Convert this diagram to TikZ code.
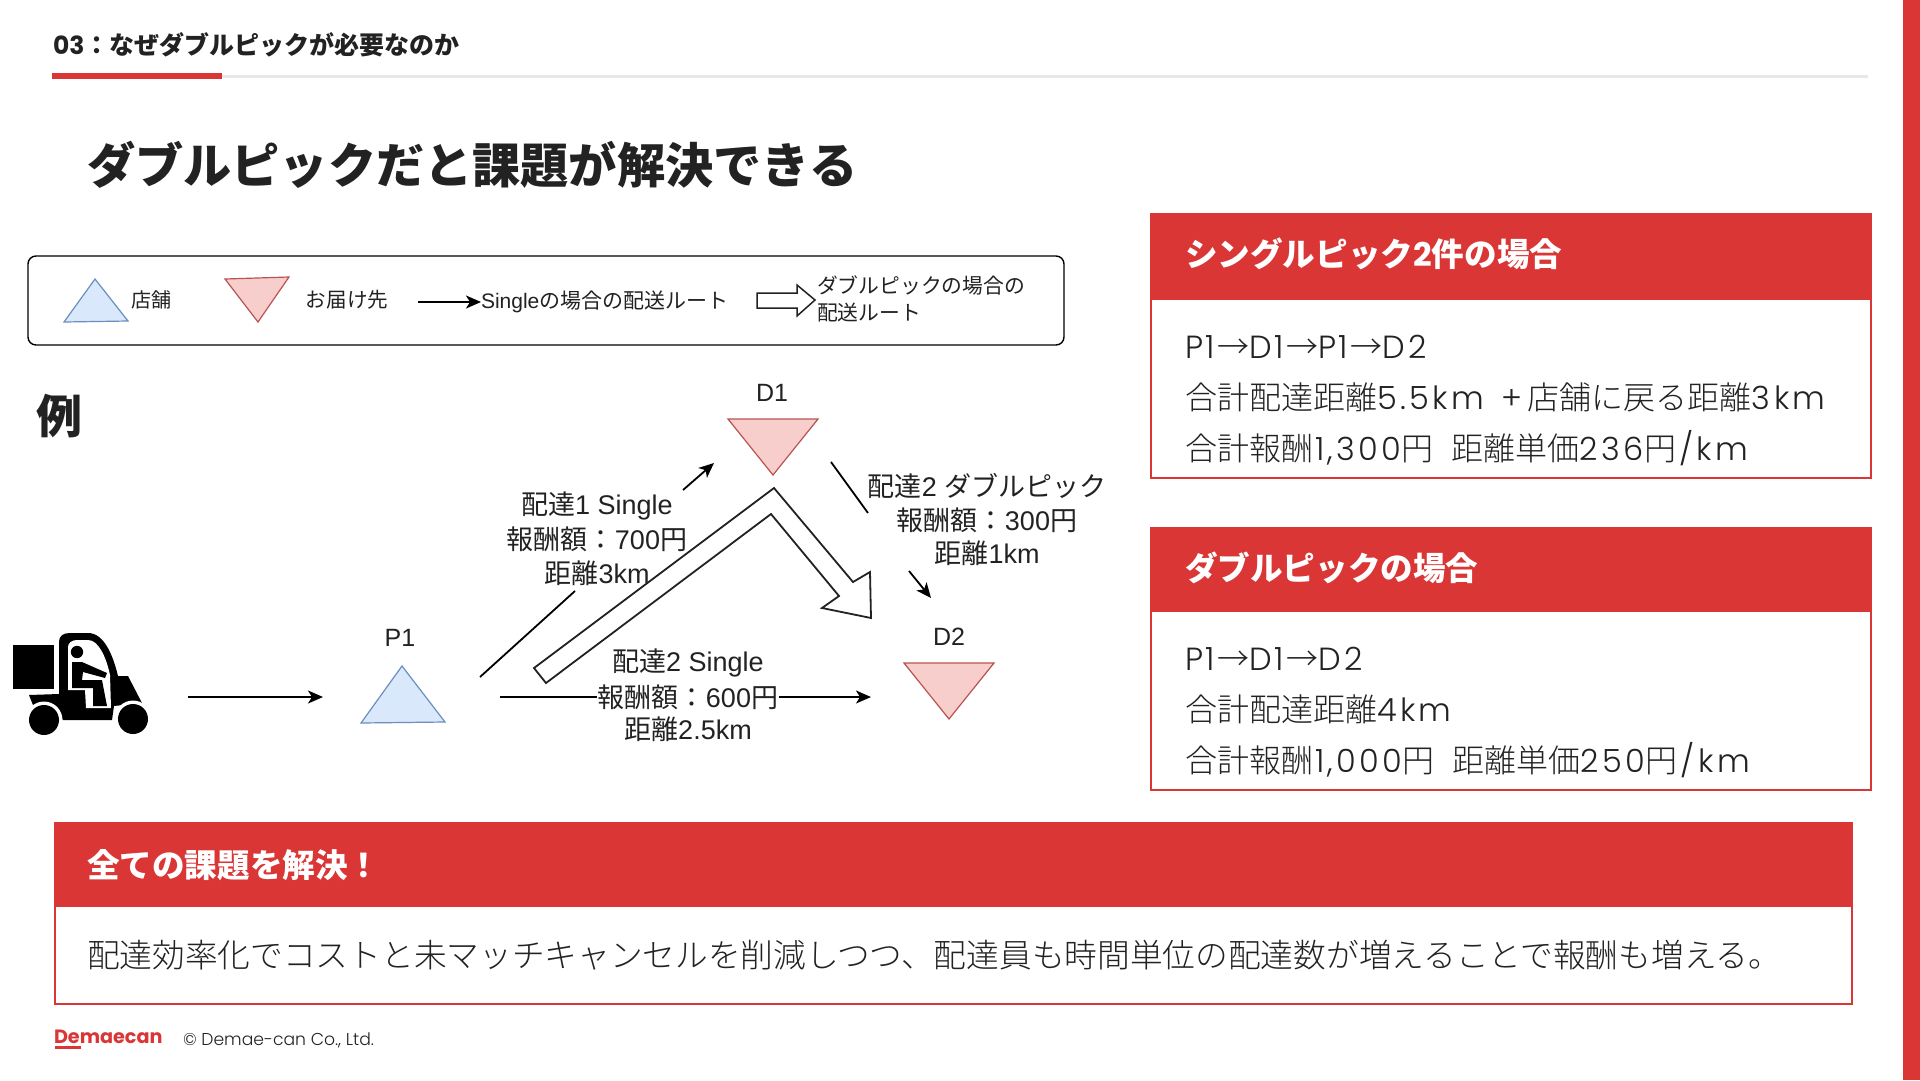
\documentclass[tikz,border=0pt]{standalone}
\usepackage{fontspec}
\usetikzlibrary{arrows.meta}
\setmainfont{Liberation Sans}
\newfontfamily\cjk{Noto Sans CJK JP}
\newfontfamily\cjklight{Noto Sans CJK JP Light}
\newfontfamily\poplight{Poppins Light}
\newfontfamily\popwide[LetterSpace=11]{Poppins Light}
\newfontfamily\pop{Poppins}
\newcommand\fs[1]{\fontsize{#1}{#1}\selectfont}
\newcommand\JD[1]{{\cjk #1}}
\newcommand\JL[1]{{\cjklight #1}}
\newcommand\wideone{\kern2.5pt 1\kern2.5pt}
\definecolor{dred}{HTML}{DA3636}
\definecolor{ink}{HTML}{222222}
\definecolor{pinkf}{HTML}{F8CECC}
\definecolor{pinks}{HTML}{B85450}
\definecolor{bluef}{HTML}{DAE8FC}
\definecolor{blues}{HTML}{6C8EBF}
\tikzset{
  txt/.style={inner sep=0pt,outer sep=0pt,text=ink,anchor=west},
  ctxt/.style={inner sep=0pt,outer sep=0pt,text=ink,anchor=center,align=center},
  bodyline/.style={txt,font=\popwide\fs{32}},
  headline/.style={txt,text=white,font=\cjk\bfseries\fs{32.6}},
  dio/.style={ctxt,font=\fs{27}},
  diolabel/.style={ctxt,font=\fs{25}},
  store/.style={draw=blues,fill=bluef,line width=1.2pt,line join=miter},
  dest/.style={draw=pinks,fill=pinkf,line width=1.2pt,line join=miter},
  conn/.style={line width=1.8pt,draw=black},
  connarrow/.style={conn,-{Stealth[length=15pt,width=13pt,inset=4pt]}},
  blockarrow/.style={draw=ink,line width=1.8pt,fill=white,line join=miter},
  panelframe/.style={draw=dred,line width=2.2pt,fill=white},
  panelhead/.style={fill=dred,draw=none}
}
\begin{document}
\begin{tikzpicture}[x=1pt,y=-1pt]
\useasboundingbox (0,0) rectangle (1920,1080);
\fill[white] (0,0) rectangle (1920,1080);
% side bar and header rule
\fill[dred] (1903,0) rectangle (1920,1080);
\fill[gray!18] (222,75) rectangle (1868,78);
\fill[dred] (52,73) rectangle (222,79);
\node[txt,font=\fs{25}] (crumb) at (53,45) {{\pop\bfseries 03}\JD{\bfseries ：なぜダブルピックが必要なのか}};
\node[txt,font=\cjk\bfseries\fs{48.2}] (title) at (87,165) {ダブルピックだと課題が解決できる};
% right panels
\draw[panelframe] (1151,214) rectangle (1871,478);
\fill[panelhead] (1150,213) rectangle (1872,300);
\node[headline] (h1) at (1185,254) {シングルピック{\pop\bfseries 2}件の場合};
\node[bodyline] (b11) at (1185,347) {P\wideone\JL{→}D\wideone\JL{→}P\wideone\JL{→}D2};
\node[bodyline] (b12) at (1185,397) {\JL{合計配達距離}5.5km\kern17pt +\,\JL{店舗に戻る距離}3km};
\node[bodyline] (b13) at (1185,448) {\JL{合計報酬}\wideone,300\JL{円}\kern6pt\ \JL{距離単価}236\JL{円}\kern3pt/km};
\draw[panelframe] (1151,528) rectangle (1871,790);
\fill[panelhead] (1150,527) rectangle (1872,612);
\node[headline] (h2) at (1185,568) {ダブルピックの場合};
\node[bodyline] (b21) at (1185,659) {P\wideone\JL{→}D\wideone\JL{→}D2};
\node[bodyline] (b22) at (1185,709) {\JL{合計配達距離}4km};
\node[bodyline] (b23) at (1185,760) {\JL{合計報酬}\wideone,000\JL{円}\kern6pt\ \JL{距離単価}250\JL{円}\kern3pt/km};
% bottom panel
\draw[panelframe] (55,823) rectangle (1852,1004);
\fill[panelhead] (54,822) rectangle (1853,907);
\node[headline] (h3) at (87,865) {全ての課題を解決！};
\node[txt,font=\cjklight\fs{32.7}] (b3) at (87,955) {配達効率化でコストと未マッチキャンセルを削減しつつ、配達員も時間単位の配達数が増えることで報酬も増える。};
% footer
\node[txt,font=\pop\bfseries\fs{19.2},text=dred] (logo) at (54,1037) {Demaecan};
\fill[dred] (55,1046) rectangle (81,1049);
\node[txt,font=\poplight\fs{17.2}] (copy) at (183,1040) {© Demae-can Co., Ltd.};
% legend
\draw[draw=black,line width=1.4pt,rounded corners=8pt] (28,256) rectangle (1064,345);
\draw[store] (95,279) -- (128,321) -- (64,322) -- cycle;
\draw[dest] (225,279) -- (289,277) -- (258,322) -- cycle;
\node[ctxt,font=\cjk\fs{20}] (lg1) at (151,300) {店舗};
\node[ctxt,font=\cjk\fs{20.6}] (lg2) at (347,300) {お届け先};
\coordinate (lga) at (418,302);
\node[txt,font=\fs{21}] (lg3) at (481,302) {Single\JD{の場合の配送ルート}};
\draw[connarrow] (lga) -- (lg3.west);
\draw[blockarrow,line width=1.5pt] (757,293) -- (797,293) -- (797,285) -- (815,300) -- (797,316) -- (797,308) -- (757,308) -- cycle;
\node[txt,font=\cjk\fs{20.8},align=left] (lg4) at (817,299) {ダブルピックの場合の\\[6pt]配送ルート};
% example
\node[ctxt,font=\cjk\bfseries\fs{46}] (rei) at (59,416) {例};
% truck
\fill[black] (13,645) rectangle (54,689);
\fill[black] (29,695) -- (59,694) -- (59,642) .. controls (59,636) and (63,633) .. (70,633) -- (88,633) .. controls (104,633) and (113,655) .. (118,676) -- (128,676) -- (142,703) -- (114,706) -- (112,720) -- (63,720) -- (50,706) -- (33,705) -- cycle;
\fill[white] (68,690) -- (68,647) .. controls (68,643) and (72,640) .. (77,640) -- (88,640) .. controls (98,640) and (106,656) .. (110,675) -- (111,708) -- (86,708) -- (85,690) -- cycle;
\fill[black] (77,652) circle (6.2);
\fill[black] (72,662) -- (82,662) -- (107,673) -- (105,678) -- (83,672) -- (82,680) -- (102,680) -- (107,706) -- (93,706) -- (93,688) -- (72,688) -- cycle;
\fill[white] (44,720) circle (18.5);
\fill[white] (133,719) circle (18.5);
\fill[black] (44,720) circle (15);
\fill[black] (133,719) circle (15);
% route diagram
\coordinate (tr) at (188,697);
\draw[store] (402,666) -- (445,722) -- (361,723) -- cycle;
\draw[dest] (728,419) -- (818,419) -- (773,475) -- cycle;
\draw[dest] (904,663) -- (994,663) -- (949,719) -- cycle;
\node[diolabel] (p1) at (400,638) {P1};
\node[diolabel] (d1) at (772,393) {D1};
\node[diolabel] (d2) at (949,637) {D2};
\coordinate (p1in) at (323,697);
\draw[connarrow] (tr) -- (p1in);
% double-pick block arrow
\draw[blockarrow] (534,668) -- (774,488) -- (853,582) -- (870,572) -- (871,618) -- (822,608) -- (839,596) -- (771,514) -- (546,683) -- cycle;
% delivery 1
\coordinate (a1s) at (480,677);
\coordinate (a1m) at (575,591);
\coordinate (a1n) at (683,490);
\coordinate (a1e) at (714,463);
\draw[conn] (a1s) -- (a1m);
\draw[connarrow] (a1n) -- (a1e);
% delivery 2 double pick
\coordinate (a2s) at (831,462);
\coordinate (a2m) at (868,513);
\coordinate (a2n) at (909,571);
\coordinate (a2e) at (931,598);
\draw[conn] (a2s) -- (a2m);
\draw[connarrow] (a2n) -- (a2e);
% delivery 2 single
\coordinate (a3s) at (500,697);
\coordinate (a3e) at (871,697);
\draw[connarrow] (a3s) -- (a3e);
\node[dio] (l1a) at (597,506) {\JD{配達}1 Single};
\node[dio] (l1b) at (597,539) {\JD{報酬額：}700\JD{円}};
\node[dio] (l1c) at (597,573) {\JD{距離}3km};
\node[dio] (l2a) at (987,486) {\JD{配達}2 \JD{ダブルピック}};
\node[dio] (l2b) at (987,520) {\JD{報酬額：}300\JD{円}};
\node[dio] (l2c) at (987,553) {\JD{距離}1km};
\node[dio] (l3a) at (688,663) {\JD{配達}2 Single};
\node[dio,fill=white,inner xsep=1pt] (l3b) at (688,697) {\JD{報酬額：}600\JD{円}};
\node[dio] (l3c) at (688,729) {\JD{距離}2.5km};
\end{tikzpicture}
\end{document}
